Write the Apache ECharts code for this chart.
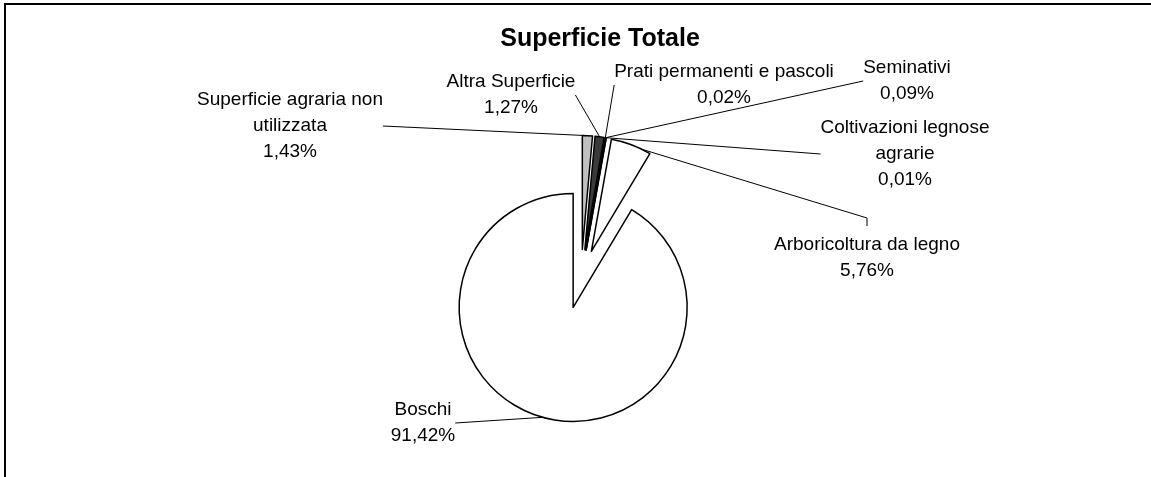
<!DOCTYPE html>
<html>
<head>
<meta charset="utf-8">
<script src="https://cdn.jsdelivr.net/npm/echarts@6/dist/echarts.min.js"></script>
<style>
html,body{margin:0;padding:0;background:#fff;}
#chart{width:1151px;height:477px;}
</style>
</head>
<body>
<div id="chart"></div>
<script>
var titleText = 'Superficie Totale';
var categories = [
  'Superficie agraria non\nutilizzata',
  'Altra Superficie',
  'Prati permanenti e pascoli',
  'Seminativi',
  'Coltivazioni legnose\nagrarie',
  'Arboricoltura da legno',
  'Boschi'
];
var values = [1.43, 1.27, 0.02, 0.09, 0.01, 5.76, 91.42];
var sliceColors = ['#c0c0c0', '#3a3a3a', '#1a1a1a', '#ffffff', '#808080', '#ffffff', '#ffffff'];

var labelPlace = {
  0: {x: 290, y: 87},
  1: {x: 511, y: 69},
  2: {x: 724, y: 59},
  3: {x: 907, y: 55},
  4: {x: 905, y: 115},
  5: {x: 867, y: 232, topLink: true},
  6: {x: 423, y: 397}
};

var pieCenter = [581, 279];
var pieRadius = 114;
var explode = 29.5;

var chart = echarts.init(document.getElementById('chart'), null, {renderer: 'canvas'});

var total = values.reduce(function (a, b) { return a + b; }, 0);
var cum = 0;
var outerMid = [];
var series = categories.map(function (c, i) {
  var mid = (cum + values[i] / 2) / total * 2 * Math.PI;
  cum += values[i];
  var cx = pieCenter[0] + explode * Math.sin(mid);
  var cy = pieCenter[1] - explode * Math.cos(mid);
  outerMid[i] = [cx + pieRadius * Math.sin(mid) - 8, cy - pieRadius * Math.cos(mid) - 1];
  var data = categories.map(function (c2, j) {
    var vis = (j === i);
    return {
      name: c2,
      value: values[j],
      itemStyle: vis ? {color: sliceColors[j], borderColor: '#000', borderWidth: 1.5}
                     : {color: 'rgba(0,0,0,0)', borderWidth: 0, opacity: 0},
      label: {show: vis},
      labelLine: {show: vis}
    };
  });
  return {
    type: 'pie',
    name: c,
    center: [cx, cy],
    radius: pieRadius,
    startAngle: 90,
    clockwise: true,
    minAngle: 0,
    avoidLabelOverlap: false,
    silent: true,
    emphasis: {disabled: true},
    label: {
      position: 'outside',
      fontFamily: 'Liberation Sans, Arial, sans-serif',
      fontSize: 19,
      lineHeight: 26,
      color: '#000',
      align: 'center',
      formatter: function (p) {
        return p.name + '\n' + p.value.toFixed(2).replace('.', ',') + '%';
      }
    },
    labelLine: {
      length: 10,
      length2: 0,
      lineStyle: {color: '#000', width: 1}
    },
    labelLayout: function (params) {
      var p = labelPlace[params.dataIndex];
      var res = {x: p.x, y: p.y, align: 'center', verticalAlign: 'top'};
      if (p.topLink) {
        res.labelLinePoints = [outerMid[params.dataIndex], [p.x, p.y - 14], [p.x, p.y - 6]];
      }
      return res;
    },
    data: data
  };
});

chart.setOption({
  animation: false,
  backgroundColor: '#ffffff',
  title: {
    text: titleText,
    left: 595,
    top: 22,
    textAlign: 'center',
    textStyle: {
      fontFamily: 'Liberation Sans, Arial, sans-serif',
      fontWeight: 'bold',
      fontSize: 25,
      color: '#000'
    }
  },
  graphic: [{
    type: 'rect',
    shape: {x: 5, y: 4, width: 1160, height: 490},
    style: {fill: 'none', stroke: '#000', lineWidth: 2},
    silent: true,
    z: 10
  }],
  series: series
});
</script>
</body>
</html>
